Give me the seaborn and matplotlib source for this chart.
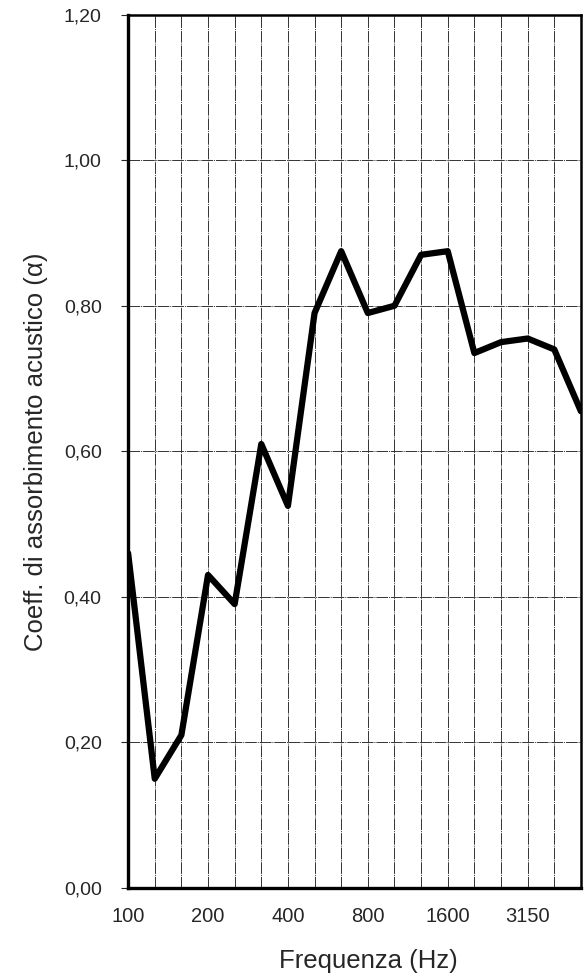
import numpy as np
import pandas as pd
import matplotlib
matplotlib.use("Agg")
import matplotlib.pyplot as plt
import seaborn as sns

# third-octave bands and measured absorption coefficient
freqs = [100, 125, 160, 200, 250, 315, 400, 500, 630, 800,
         1000, 1250, 1600, 2000, 2500, 3150, 4000, 5000]
alpha = [0.46, 0.15, 0.21, 0.43, 0.39, 0.61, 0.525, 0.79, 0.875, 0.79,
         0.80, 0.87, 0.875, 0.735, 0.75, 0.755, 0.74, 0.655]
shown_labels = ["100", "200", "400", "800", "1600", "3150"]
y_ticks = [0.0, 0.2, 0.4, 0.6, 0.8, 1.0, 1.2]
y_labels = ["0,00", "0,20", "0,40", "0,60", "0,80", "1,00", "1,20"]

df = pd.DataFrame({"pos": np.arange(len(freqs)), "alpha": alpha})

sns.set_style("white")
plt.rcParams['font.family'] = ['Liberation Sans', 'DejaVu Sans']

fig = plt.figure(figsize=(5.85, 9.8), dpi=100)
ax = fig.add_axes([0.219, 0.094, 0.774, 0.891])

sns.lineplot(data=df, x="pos", y="alpha", color="black", linewidth=4.5, ax=ax)

# every band gets a grid line, only some get a label
xt = [str(f) if str(f) in shown_labels else "" for f in freqs]
ax.set_xticks(df["pos"])
ax.set_xticklabels(xt, fontsize=14.5)
ax.set_yticks(y_ticks)
ax.set_yticklabels(y_labels, fontsize=14)
ax.set_xlim(0, len(freqs) - 1)
ax.set_ylim(0, 1.2)

ax.grid(True, color="0.2", linewidth=0.7, linestyle=(0, (12, 1, 1, 1)))
ax.set_axisbelow(True)

ax.tick_params(axis="x", length=0, pad=14)
ax.tick_params(axis="y", length=5, width=0.8, pad=14, direction="out", left=True)

for side in ["left", "bottom"]:
    ax.spines[side].set_linewidth(2.4)
for side in ["top", "right"]:
    ax.spines[side].set_linewidth(1.8)
for s in ax.spines.values():
    s.set_color("black")

ax.set_xlabel("Frequenza (Hz)", fontsize=18.5)
ax.xaxis.set_label_coords(0.53, -0.07)
ax.set_ylabel("Coeff. di assorbimento acustico (\u03b1)", fontsize=18.5, labelpad=11)

fig.savefig("out.png", dpi=100)
